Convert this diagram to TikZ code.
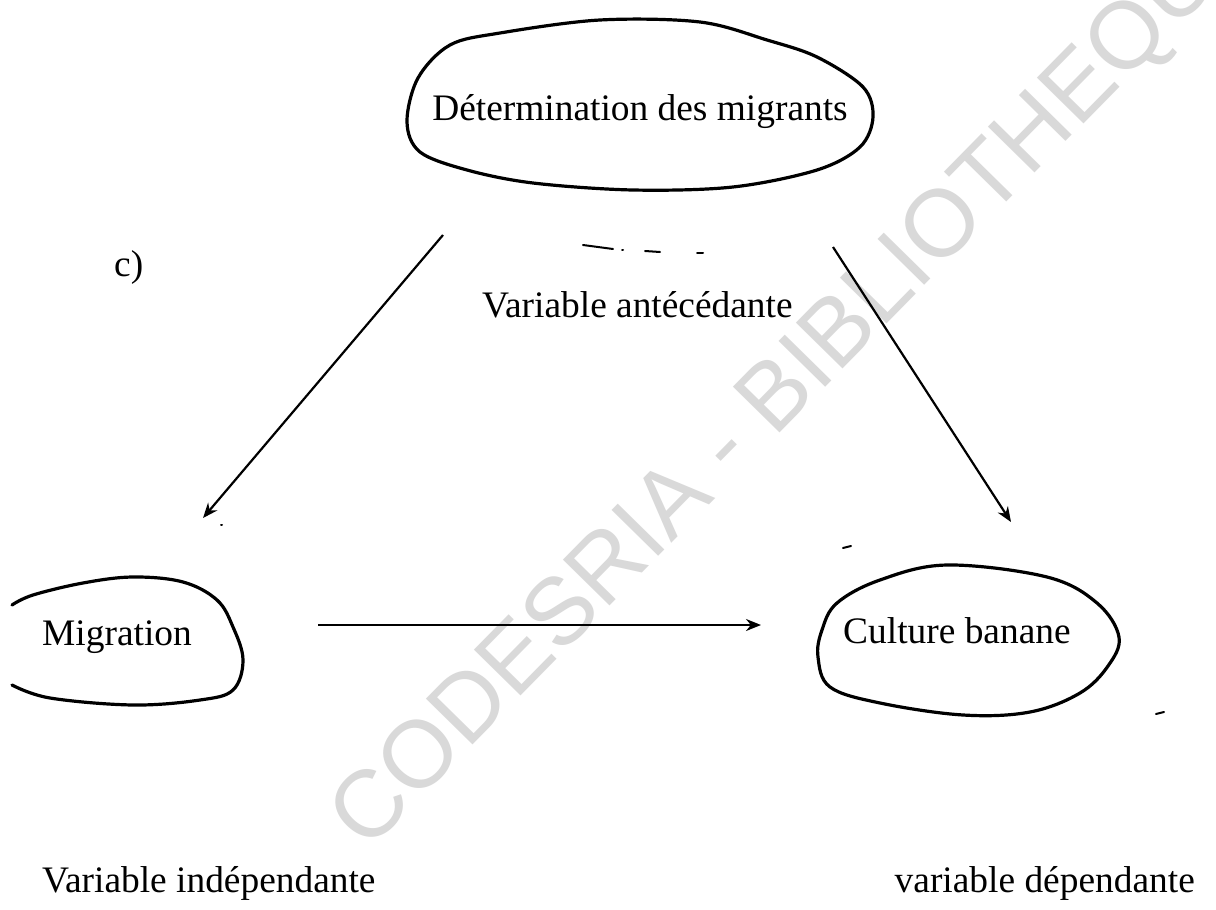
\documentclass[tikz,border=0pt]{standalone}
\usepackage{fontspec}
\setmainfont{Liberation Serif}
\newfontfamily\wmfont{Liberation Sans}
\usetikzlibrary{arrows.meta}
\definecolor{wmgray}{RGB}{217,217,217}
\tikzset{
  lbl/.style={inner sep=0pt, font=\fontsize{37.4}{44}\selectfont},
  blob/.style={line width=3.2pt, line cap=round, line join=round},
  conn/.style={line width=2.2pt, -{Stealth[length=15pt,width=12pt]}},
  speck/.style={line width=2pt, line cap=round},
  wmark/.style={inner sep=0pt, text=wmgray, font=\wmfont\fontsize{95}{100}\selectfont}
}
\begin{document}
\begin{tikzpicture}[x=1pt,y=-1pt]
\useasboundingbox[fill=white] (0,0) rectangle (1216,910);
% watermark
\begin{scope}
\clip (0,0) rectangle (1216,910);
\node[wmark, rotate=45.5] (wm) at (800,378) {CODESRIA - BIBLIOTHEQUE};
\end{scope}

% texts
\node[lbl, anchor=base] (top) at (640,120) {Détermination des migrants};
\node[lbl, anchor=base west] (c) at (114,276) {c)};
\node[lbl, anchor=base west] (ante) at (482,317) {Variable antécédante};
\node[lbl, anchor=base west] (mig) at (42,645) {Migration};
\node[lbl, anchor=base west] (cult) at (843,643) {Culture banane};
\node[lbl, anchor=base west] (indep) at (42,892) {Variable indépendante};
\node[lbl, anchor=base east] (dep) at (1195,892) {variable dépendante};

% hand-drawn outlines
\draw[blob] plot[smooth cycle, tension=0.55] coordinates {
  (407,122) (418,78) (450,45) (500,33) (600,20) (700,22) (767,40) (817,57)
  (863,87) (873,117) (860,147) (817,170) (733,187) (633,190) (533,183)
  (467,170) (420,152)};
\draw[blob] plot[smooth, tension=0.6] coordinates {
  (12,605) (33,595) (83,583) (133,577) (183,582) (217,600) (233,627)
  (243,660) (233,690) (200,700) (133,705) (50,698) (12,685)};
\draw[blob] plot[smooth cycle, tension=0.6] coordinates {
  (947,565) (1047,577) (1097,603) (1119,637) (1108,666) (1080,693)
  (1030,712) (963,715) (880,703) (830,687) (818,657) (822,630)
  (837,603) (880,580)};

% connectors
\coordinate (la1) at (443,235);
\coordinate (la2) at (203,518);
\coordinate (ra1) at (833,247);
\coordinate (ra2) at (1011,522);
\coordinate (ha1) at (318,625);
\coordinate (ha2) at (761,625);
\draw[conn] (la1) -- (la2);
\draw[conn] (ra1) -- (ra2);
\draw[conn] (ha1) -- (ha2);

% specks
\draw[speck] (583,245) -- (613,249);
\draw[speck] (622,250) -- (623,250);
\draw[speck] (645,251) -- (660,252);
\draw[speck] (697,253) -- (703,253);
\draw[speck] (843,548) -- (851,546);
\draw[speck] (1156,714) -- (1164,712);
\draw[speck] (221,525) -- (222,525);
\end{tikzpicture}
\end{document}
